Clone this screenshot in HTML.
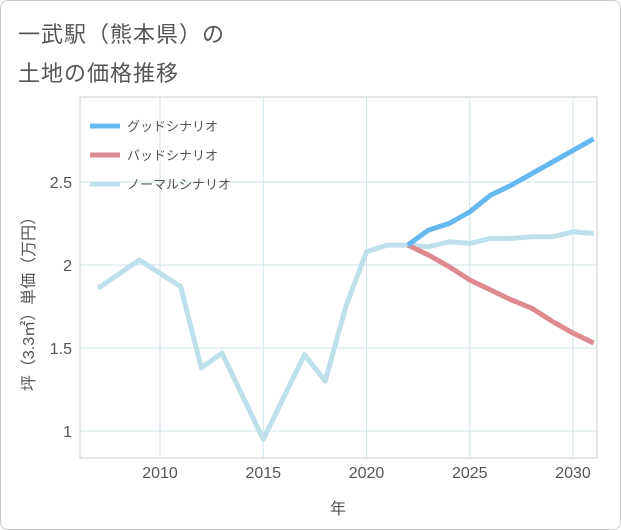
<!DOCTYPE html>
<html><head><meta charset="utf-8"><style>
body{margin:0;background:#fff;}
#wrap{position:relative;width:619px;height:528px;border:1px solid #ccc;border-radius:8px;overflow:hidden;font-family:"Liberation Sans","Noto Sans CJK JP",sans-serif;}
.t{position:absolute;left:17px;font-size:22px;color:#555;letter-spacing:1px;}
</style></head><body>
<div id="wrap">
<div class="t" style="top:16px">一武駅（熊本県）の</div>
<div class="t" style="top:55px">土地の価格推移</div>
<svg id="c" width="621" height="530" style="position:absolute;left:-1px;top:-1px"></svg>
</div>
<script>
const normalYears=[2007,2009,2011,2012,2013,2015,2017,2018,2019,2020,2021,2022,2023,2024,2025,2026,2027,2028,2029,2030,2031];
const normalVals=[1.86,2.03,1.87,1.38,1.47,0.95,1.46,1.30,1.75,2.08,2.12,2.12,2.11,2.14,2.13,2.16,2.16,2.17,2.17,2.20,2.19];
const goodYears=[2022,2023,2024,2025,2026,2027,2028,2029,2030,2031];
const goodVals=[2.12,2.21,2.25,2.32,2.42,2.48,2.55,2.62,2.69,2.76];
const badYears=[2022,2023,2024,2025,2026,2027,2028,2029,2030,2031];
const badVals=[2.12,2.06,1.99,1.91,1.85,1.79,1.74,1.66,1.59,1.53];
const xTicks=[2010,2015,2020,2025,2030];
const yTicks=[1,1.5,2,2.5];
const L=80,R=597,T=97,B=458;
const x=v=>160+(v-2010)*20.65;
const y=v=>265-(v-2)*166;
const s=document.getElementById('c');const NS='http://www.w3.org/2000/svg';
function el(t,a,txt){const e=document.createElementNS(NS,t);for(const k in a)e.setAttribute(k,a[k]);if(txt!=null)e.textContent=txt;s.appendChild(e);return e;}
const bg=el('rect',{x:L,y:T,width:R-L,height:B-T,fill:'#fff',stroke:'#ccc'});


xTicks.forEach(v=>{const g=el('line',{x1:x(v),x2:x(v),y1:T,y2:B,stroke:'#cfe3ea'});


const t=el('text',{x:x(v),y:478,'text-anchor':'middle','font-size':16,fill:'#555'},v);

});
yTicks.forEach(v=>{const g=el('line',{x1:L,x2:R,y1:y(v),y2:y(v),stroke:'#cfe3ea'});


const t=el('text',{x:72,y:y(v)+6,'text-anchor':'end','font-size':16,fill:'#555'},v);

});
const xt=el('text',{x:338,y:514,'text-anchor':'middle','font-size':16,fill:'#555'},'年');


const yt=el('text',{x:0,y:0,'text-anchor':'middle','font-size':16,fill:'#555',transform:'translate(34,300) rotate(-90)'},'坪（3.3㎡）単価（万円）');


function line(xs,vs,c,n){const p=el('polyline',{points:xs.map((v,i)=>x(v)+','+y(vs[i])).join(' '),fill:'none',stroke:c,'stroke-width':5,'stroke-linejoin':'round'});

}
line(normalYears,normalVals,'#bde0ea','normal-scenario-line');
line(badYears,badVals,'#de8a90','bad-scenario-line');
line(goodYears,goodVals,'#66b8f0','good-scenario-line');
[['グッドシナリオ','#66b8f0'],['バッドシナリオ','#de8a90'],['ノーマルシナリオ','#bde0ea']].forEach((d,i)=>{
const yy=126+i*29;
const l=el('line',{x1:90,x2:120,y1:yy,y2:yy,stroke:d[1],'stroke-width':5});


const t=el('text',{x:127,y:yy+5,'font-size':13,fill:'#555'},d[0]);

});
</script>
</body></html>
